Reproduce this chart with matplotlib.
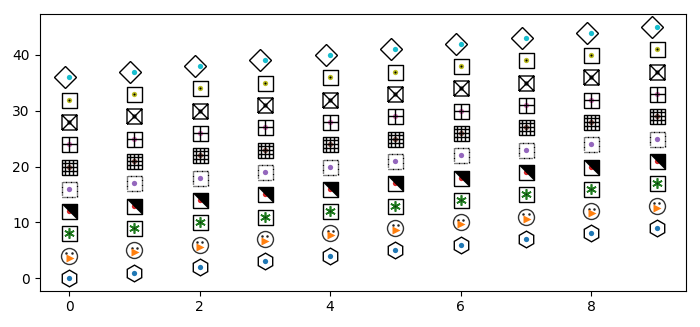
import numpy as np
import matplotlib
matplotlib.use("Agg")
import matplotlib.pyplot as plt
from matplotlib.path import Path
from matplotlib.transforms import offset_copy

# x positions shared by every series and the vertical offset of each series
x = [0, 1, 2, 3, 4, 5, 6, 7, 8, 9]
offsets = [0, 4, 8, 12, 16, 20, 24, 28, 32, 36]
dot_colors = ["C0", "C1", "C2", "C3", "C4", "C5", "C6", "C7", "C8", "C9"]


def multi_path(segments):
    verts, codes = [], []
    for seg in segments:
        verts.extend(seg)
        codes.append(Path.MOVETO)
        codes.extend([Path.LINETO] * (len(seg) - 1))
    return Path(verts, codes)


border = [(-1, -1), (1, -1), (1, 1), (-1, 1), (-1, -1)]
box_path = multi_path([border])
x_box = multi_path([border, [(-1, -1), (1, 1)], [(-1, 1), (1, -1)]])
plus_box = multi_path([border, [(0, -1), (0, 1)], [(-1, 0), (1, 0)]])
grid_lines = [border]
for g in (-0.5, 0.0, 0.5):
    grid_lines.append([(g, -1), (g, 1)])
    grid_lines.append([(-1, g), (1, g)])
grid_box = multi_path(grid_lines)

# dashed outline built from short strokes along the perimeter
dash_segs = []
n_dash = 6
step = 2.0 / n_dash
for k in range(n_dash):
    a = -1 + k * step
    b = a + step * 0.6
    dash_segs += [[(a, -1), (b, -1)], [(1, a), (1, b)],
                  [(-a, 1), (-b, 1)], [(-1, -a), (-1, -b)]]
dashed_box = multi_path(dash_segs)

half_tri = Path([(-1, 1), (1, 1), (1, -1), (-1, 1)],
                [Path.MOVETO, Path.LINETO, Path.LINETO, Path.CLOSEPOLY])

fig = plt.figure(figsize=(7.0, 3.27), dpi=100)
ax = fig.add_axes([0.0566, 0.111, 0.9234, 0.845])

series = [[xi + off for xi in x] for off in offsets]
SQ = 10.8
EW = 1.0


def shifted(dx, dy):
    return offset_copy(ax.transData, fig=fig, x=dx, y=dy, units="dots")


# 0: hexagon
y = series[0]
ax.plot(x, y, ls="none", marker="o", ms=3.8, mfc=dot_colors[0], mec="none")
ax.plot(x, y, ls="none", marker="h", ms=12, mfc="none", mec="black", mew=EW)

# 1: snowman face
y = series[1]
ax.plot(x, y, ls="none", marker="o", ms=11.5, mfc="white", mec="#333333", mew=EW)
for ex in (-2.6, 2.6):
    ax.plot(x, y, ls="none", marker="o", ms=1.8, mfc="#222222", mec="none",
            transform=shifted(ex, 2.6))
ax.plot(x, y, ls="none", marker=">", ms=6, mfc=dot_colors[1], mec="none",
        transform=shifted(0.5, -2.0))

# 2: asterisk in a box
y = series[2]
ax.plot(x, y, ls="none", marker=(6, 2, 0), ms=7.5, mec="#1f7a1f", mew=1.2)
ax.plot(x, y, ls="none", marker="o", ms=1.5, mfc="#113311", mec="none")
ax.plot(x, y, ls="none", marker=box_path, ms=SQ, mfc="none", mec="black", mew=EW)

# 3: half-filled box
y = series[3]
ax.plot(x, y, ls="none", marker="o", ms=3.8, mfc=dot_colors[3], mec="none")
ax.plot(x, y, ls="none", marker=half_tri, ms=SQ, mfc="black", mec="black", mew=0.5)
ax.plot(x, y, ls="none", marker=box_path, ms=SQ, mfc="none", mec="black", mew=EW)

# 4: dashed box
y = series[4]
ax.plot(x, y, ls="none", marker="o", ms=3.8, mfc=dot_colors[4], mec="none")
ax.plot(x, y, ls="none", marker=dashed_box, ms=SQ, mfc="none", mec="black", mew=EW)

# 5: grid box
y = series[5]
ax.plot(x, y, ls="none", marker="o", ms=3.8, mfc=dot_colors[5], mec="none")
ax.plot(x, y, ls="none", marker=grid_box, ms=SQ, mfc="none", mec="black", mew=EW)

# 6: cross box
y = series[6]
ax.plot(x, y, ls="none", marker="o", ms=3.8, mfc=dot_colors[6], mec="none")
ax.plot(x, y, ls="none", marker=plus_box, ms=SQ, mfc="none", mec="black", mew=EW)

# 7: x box
y = series[7]
ax.plot(x, y, ls="none", marker="o", ms=3.8, mfc=dot_colors[7], mec="none")
ax.plot(x, y, ls="none", marker=x_box, ms=SQ, mfc="none", mec="black", mew=EW)

# 8: box with a dotted dot
y = series[8]
ax.plot(x, y, ls="none", marker="o", ms=3.8, mfc=dot_colors[8], mec="none")
ax.plot(x, y, ls="none", marker="o", ms=1.5, mfc="black", mec="none")
ax.plot(x, y, ls="none", marker=box_path, ms=SQ, mfc="none", mec="black", mew=EW)

# 9: diamond
y = series[9]
ax.plot(x, y, ls="none", marker="o", ms=3.8, mfc=dot_colors[9], mec="none")
ax.plot(x, y, ls="none", marker="D", ms=11, mfc="none", mec="black", mew=EW,
        transform=shifted(-4.5, 0))

ax.set_xlim(-0.45, 9.45)
ax.set_ylim(-2.25, 47.25)
ax.set_xticks([0, 2, 4, 6, 8])
ax.set_yticks([0, 10, 20, 30, 40])

fig.savefig("out.png", dpi=100)
